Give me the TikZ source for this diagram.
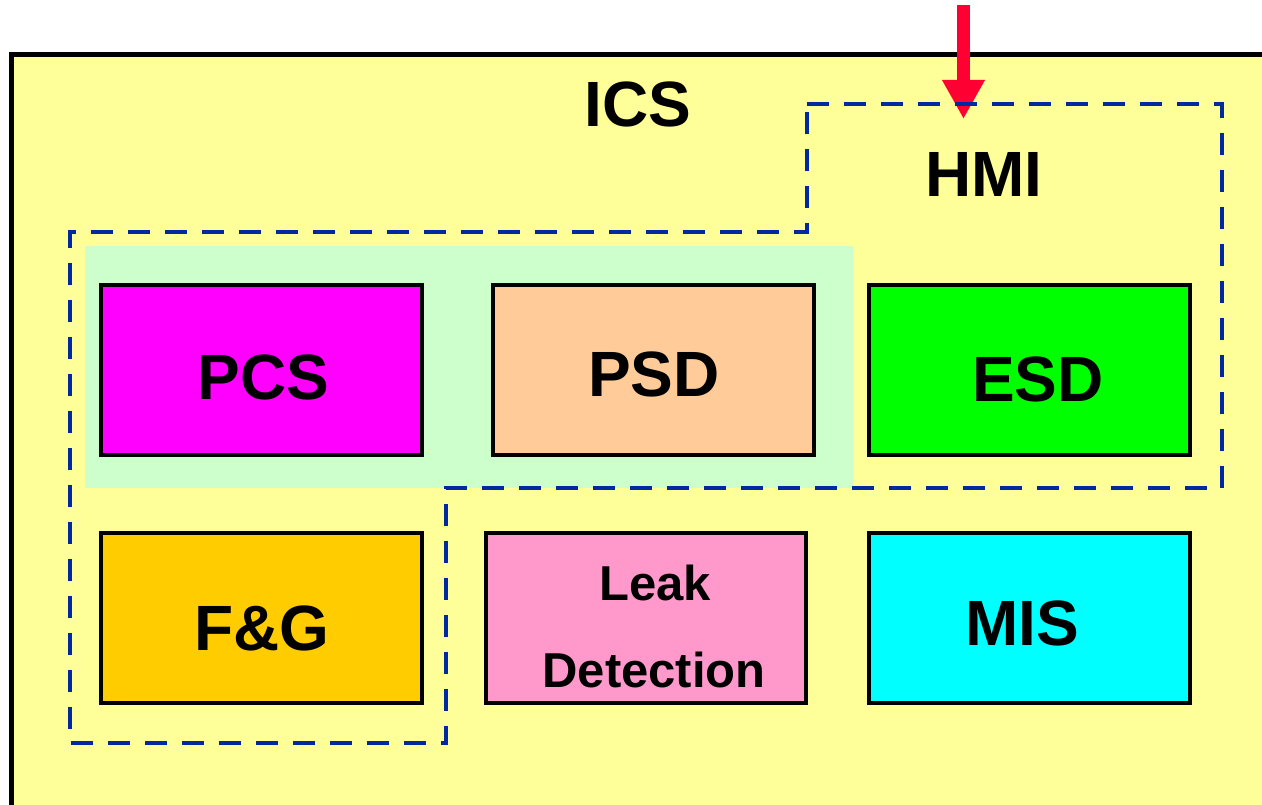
\documentclass[tikz,border=0pt]{standalone}
\usepackage{fontspec}
\setmainfont{Liberation Sans}
\usetikzlibrary{arrows.meta}
\definecolor{icsyellow}{RGB}{255,255,153}
\definecolor{lightgreen}{RGB}{204,255,204}
\definecolor{pcsmag}{RGB}{255,0,255}
\definecolor{psdpeach}{RGB}{255,204,153}
\definecolor{esdgreen}{RGB}{0,255,0}
\definecolor{fgorange}{RGB}{255,204,0}
\definecolor{leakpink}{RGB}{255,153,204}
\definecolor{miscyan}{RGB}{0,255,255}
\definecolor{dashblue}{RGB}{0,40,160}
\definecolor{arrowred}{RGB}{255,0,51}
\tikzset{
  x=1pt, y=-1pt,
  sysbox/.style={draw=black, line width=4pt, minimum width=321pt, minimum height=170pt, inner sep=0pt},
  bigtext/.style={font=\fontsize{64}{64}\selectfont\bfseries, anchor=base, inner sep=0pt},
  midtext/.style={font=\fontsize{49}{49}\selectfont\bfseries, anchor=base, inner sep=0pt},
  hmiline/.style={draw=dashblue, line width=4.5pt, dash pattern=on 22pt off 15pt},
}
\begin{document}
\begin{tikzpicture}
\useasboundingbox (0,0) rectangle (1262,805);
\clip (0,0) rectangle (1262,805);
\fill[white] (0,0) rectangle (1262,805);
% ICS outer box
\draw[fill=icsyellow, line width=5pt] (11,1000) -- (11,55) -- (1400,55);
\fill[icsyellow] (13.5,57.5) rectangle (1400,1000);
\node[bigtext] (ics) at (638,127) {ICS};
% light green area
\fill[lightgreen] (85,246) rectangle (853,488);
% boxes
\node[sysbox, fill=pcsmag] (pcs) at (261.5,370) {};
\node[sysbox, fill=psdpeach] (psd) at (653.5,370) {};
\node[sysbox, fill=esdgreen] (esd) at (1029.5,370) {};
\node[sysbox, fill=fgorange] (fg) at (261.5,618) {};
\node[sysbox, fill=leakpink, minimum width=320pt] (leak) at (646,618) {};
\node[sysbox, fill=miscyan] (mis) at (1029.5,618) {};
% labels
\node[bigtext] (pcslabel) at (263.5,399) {PCS};
\node[bigtext] (psdlabel) at (654,396) {PSD};
\node[bigtext] (esdlabel) at (1038,401) {ESD};
\node[bigtext] (fglabel) at (262,650) {F\&G};
\node[bigtext] (mislabel) at (1022,645) {MIS};
\node[midtext] (leaklabel) at (655,600) {Leak};
\node[midtext] (detlabel) at (654,687) {Detection};
% red arrow
\coordinate (arrowstart) at (963.5,5);
\coordinate (arrowend) at (963.5,119);
\draw[arrowred, line width=13pt, -{Triangle[width=40pt,length=39pt]}] (arrowstart) -- (arrowend);
% HMI dashed outline
\draw[hmiline] (807,104) -- (1222,104) -- (1222,488) -- (446,488) -- (446,743) -- (70,743) -- (70,232) -- (807,232) -- cycle;
\node[bigtext] (hmi) at (984,197) {HMI};
\end{tikzpicture}
\end{document}
